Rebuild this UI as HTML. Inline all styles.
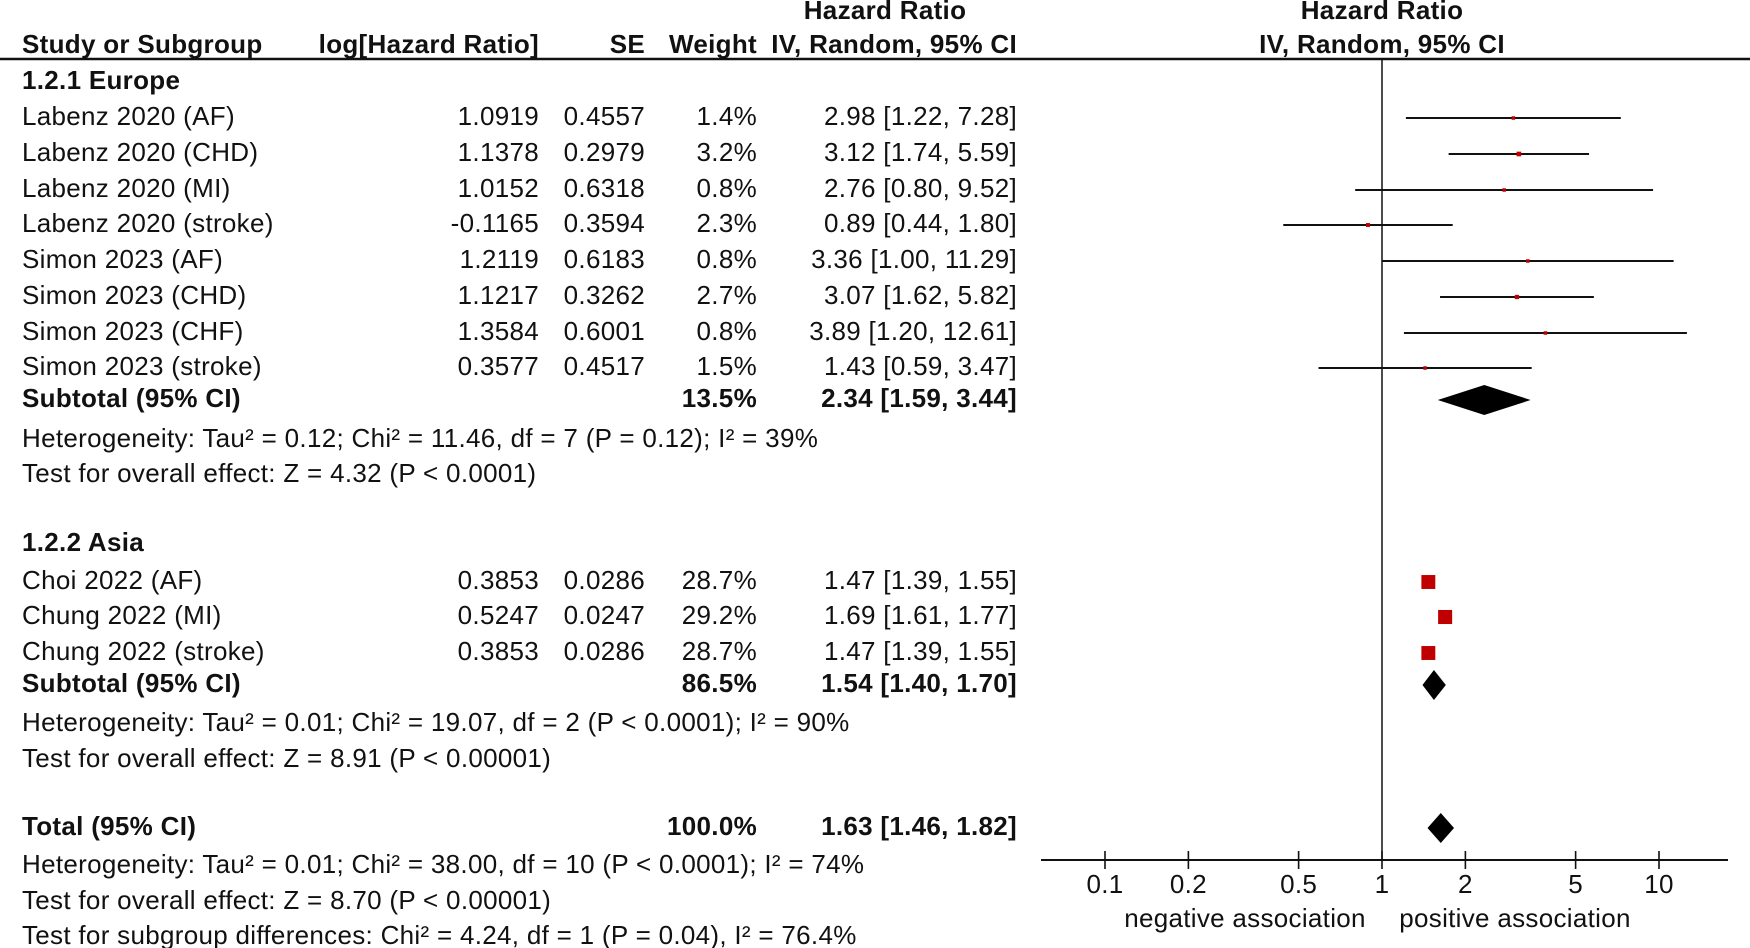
<!DOCTYPE html>
<html><head><meta charset="utf-8">
<style>
html,body{margin:0;padding:0;background:#fff;}
svg{display:block;}
text{font-family:"Liberation Sans",Arial,sans-serif;font-size:26px;letter-spacing:0.3px;fill:#111;}
.b{font-weight:bold;}
</style></head>
<body>
<svg id="chart" width="1750" height="948" viewBox="0 0 1750 948" xmlns="http://www.w3.org/2000/svg"></svg>
<script>
const studyNames=["Labenz 2020 (AF)","Labenz 2020 (CHD)","Labenz 2020 (MI)","Labenz 2020 (stroke)","Simon 2023 (AF)","Simon 2023 (CHD)","Simon 2023 (CHF)","Simon 2023 (stroke)","Choi 2022 (AF)","Chung 2022 (MI)","Chung 2022 (stroke)"];
const logHR=["1.0919","1.1378","1.0152","-0.1165","1.2119","1.1217","1.3584","0.3577","0.3853","0.5247","0.3853"];
const seVals=["0.4557","0.2979","0.6318","0.3594","0.6183","0.3262","0.6001","0.4517","0.0286","0.0247","0.0286"];
const weights=[1.4,3.2,0.8,2.3,0.8,2.7,0.8,1.5,28.7,29.2,28.7];
const hr=[2.98,3.12,2.76,0.89,3.36,3.07,3.89,1.43,1.47,1.69,1.47];
const lo=[1.22,1.74,0.80,0.44,1.00,1.62,1.20,0.59,1.39,1.61,1.39];
const hi=[7.28,5.59,9.52,1.80,11.29,5.82,12.61,3.47,1.55,1.77,1.55];
const studyRowY=[118,154,190,225,261,297,333,368,582,617,653];
const subNames=["Subtotal (95% CI)","Subtotal (95% CI)","Total (95% CI)"];
const subWeights=["13.5%","86.5%","100.0%"];
const subHR=[2.34,1.54,1.63];
const subLo=[1.59,1.40,1.46];
const subHi=[3.44,1.70,1.82];
const subY=[400,685,828];
const tickVals=[0.1,0.2,0.5,1,2,5,10];
const tickLabels=["0.1","0.2","0.5","1","2","5","10"];

const svg=document.getElementById('chart');
const NS="http://www.w3.org/2000/svg";
const X0=1382, DEC=277;
function xs(v){return X0+Math.log10(v)*DEC;}
function mk(tag,attrs,parent){const e=document.createElementNS(NS,tag);for(const k in attrs)e.setAttribute(k,attrs[k]);(parent||svg).appendChild(e);return e;}
function txt(s,x,y,anchor,bold,name){const t=mk('text',{x:x,y:y,'text-anchor':anchor||'start','dominant-baseline':'middle'});if(bold)t.setAttribute('class','b');t.textContent=s;


return t;}
function f2(v){return v.toFixed(2);}

txt("Hazard Ratio",885,12,'middle',true,'header-hazard-ratio');
txt("Hazard Ratio",1382,12,'middle',true,'plot-header-hazard-ratio');
txt("Study or Subgroup",22,46,'start',true,'header-study');
txt("log[Hazard Ratio]",539,46,'end',true,'header-log-hr');
txt("SE",645,46,'end',true,'header-se');
txt("Weight",757,46,'end',true,'header-weight');
txt("IV, Random, 95% CI",1017,46,'end',true,'header-ci');
txt("IV, Random, 95% CI",1382,46,'middle',true,'plot-header-ci');
let l=mk('line',{x1:0,y1:59,x2:1750,y2:59,stroke:'#111','stroke-width':2.5});



txt("1.2.1 Europe",22,82,'start',true,'group-europe');
txt("1.2.2 Asia",22,544,'start',true,'group-asia');

l=mk('line',{x1:xs(1),y1:59,x2:xs(1),y2:860,stroke:'#111','stroke-width':1.5});



for(let i=0;i<studyNames.length;i++){
  const y=studyRowY[i];
  txt(studyNames[i],22,y,'start',false,'study-name');
  txt(logHR[i],539,y,'end',false,'log-hr-value');
  txt(seVals[i],645,y,'end',false,'se-value');
  txt(weights[i].toFixed(1)+"%",757,y,'end',false,'weight-value');
  txt(f2(hr[i])+" ["+f2(lo[i])+", "+f2(hi[i])+"]",1017,y,'end',false,'ci-value');
  const w=mk('line',{x1:xs(lo[i]),y1:y,x2:xs(hi[i]),y2:y,stroke:'#111','stroke-width':2});
  
  
  const s=Math.max(2.6*Math.sqrt(weights[i]),3.5);
  const r=mk('rect',{x:xs(hr[i])-s/2,y:y-s/2,width:s,height:s,fill:'#c00000'});
  
  
}

for(let i=0;i<subNames.length;i++){
  const y=subY[i];
  txt(subNames[i],22,y,'start',true,'subtotal-label');
  txt(subWeights[i],757,y,'end',true,'subtotal-weight');
  txt(f2(subHR[i])+" ["+f2(subLo[i])+", "+f2(subHi[i])+"]",1017,y,'end',true,'subtotal-ci');
  const h=15;
  const d=mk('polygon',{points:`${xs(subLo[i])},${y} ${xs(subHR[i])},${y-h} ${xs(subHi[i])},${y} ${xs(subHR[i])},${y+h}`,fill:'#000'});
  
  
}

const notes=[
 ["Heterogeneity: Tau² = 0.12; Chi² = 11.46, df = 7 (P = 0.12); I² = 39%",440],
 ["Test for overall effect: Z = 4.32 (P < 0.0001)",475],
 ["Heterogeneity: Tau² = 0.01; Chi² = 19.07, df = 2 (P < 0.0001); I² = 90%",724],
 ["Test for overall effect: Z = 8.91 (P < 0.00001)",760],
 ["Heterogeneity: Tau² = 0.01; Chi² = 38.00, df = 10 (P < 0.0001); I² = 74%",866],
 ["Test for overall effect: Z = 8.70 (P < 0.00001)",902],
 ["Test for subgroup differences: Chi² = 4.24, df = 1 (P = 0.04), I² = 76.4%",937]];
notes.forEach(n=>txt(n[0],22,n[1],'start',false,'footnote'));

l=mk('line',{x1:1041,y1:860,x2:1728,y2:860,stroke:'#111','stroke-width':2});


tickVals.forEach((v,i)=>{
  const t=mk('line',{x1:xs(v),y1:851,x2:xs(v),y2:869,stroke:'#111','stroke-width':1.6});
  
  
  txt(tickLabels[i],xs(v),886,'middle',false,'x-tick-label');
});
txt("negative association",1245,920,'middle',false,'negative-association-label');
txt("positive association",1515,920,'middle',false,'positive-association-label');
</script>
</body></html>
